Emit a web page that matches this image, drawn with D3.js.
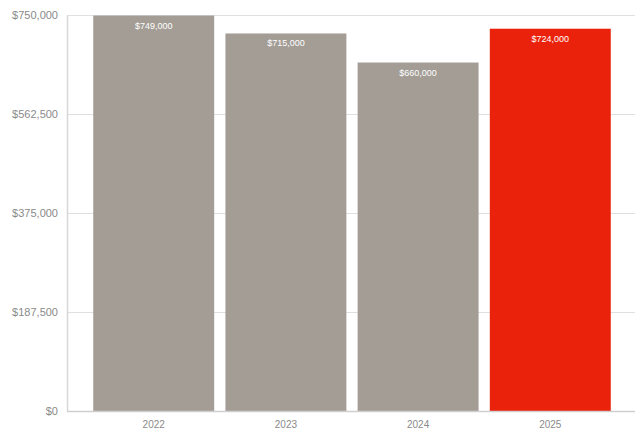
<!DOCTYPE html>
<html><head><meta charset="utf-8">
<script src="https://cdn.jsdelivr.net/npm/d3@7"></script>
<style>body{margin:0;background:#fff}svg{display:block}</style>
</head><body>
<svg id="c" width="635" height="437"></svg>
<script>
const categories = ["2022", "2023", "2024", "2025"];
const values = [749000, 715000, 660000, 724000];
const yTicks = [0, 187500, 375000, 562500, 750000];
const barColors = ["#a39d96", "#a39d96", "#a39d96", "#ea220b"];

const svg = d3.select("#c");
const fmt = d3.format("$,");
const x = d3.scaleBand().domain(categories).range([82, 622]).paddingInner(0.085).paddingOuter(0.085);
const y = d3.scaleLinear().domain([0, 750000]).range([411, 15]);

// grid
svg.append("g").selectAll("line").data(yTicks).join("line")
  .attr("x1", 67).attr("x2", 635)
  .attr("y1", d => y(d) + 0.5).attr("y2", d => y(d) + 0.5)
  .attr("stroke", "#e0e0e0").attr("stroke-width", 1);

// y axis
const ya = svg.append("g").attr("transform", "translate(67,0)")
  .call(d3.axisLeft(y).tickValues(yTicks).tickFormat(fmt).tickSize(0).tickPadding(9));
ya.select(".domain").attr("stroke", "#d8d8d8").attr("stroke-width", 1.5);
ya.selectAll("text").attr("fill", "#8a8a8a").style("font-family", "Liberation Sans, Arial, sans-serif").style("font-size", "11px");

// bars
svg.append("g").selectAll("rect").data(categories).join("rect")
  .attr("x", d => x(d)).attr("width", x.bandwidth())
  .attr("y", (d, i) => y(values[i])).attr("height", (d, i) => y(0) - y(values[i]))
  .attr("fill", (d, i) => barColors[i]);

// bar labels
svg.append("g").selectAll("text").data(categories).join("text")
  .attr("x", d => x(d) + x.bandwidth() / 2)
  .attr("y", (d, i) => y(values[i]) + 13)
  .attr("text-anchor", "middle").attr("fill", "#fff")
  .style("font-family", "Liberation Sans, Arial, sans-serif").style("font-size", "9px")
  .text((d, i) => fmt(values[i]));

// x axis
const xa = svg.append("g").attr("transform", "translate(0,411)")
  .call(d3.axisBottom(x).tickSize(0).tickPadding(10));
xa.select(".domain").remove();
svg.append("line").attr("x1", 67).attr("x2", 635).attr("y1", 411.5).attr("y2", 411.5)
  .attr("stroke", "#cfcfcf").attr("stroke-width", 1.5);
xa.selectAll("text").attr("fill", "#8a8a8a").style("font-family", "Liberation Sans, Arial, sans-serif").style("font-size", "10px");
</script>
</body></html>
